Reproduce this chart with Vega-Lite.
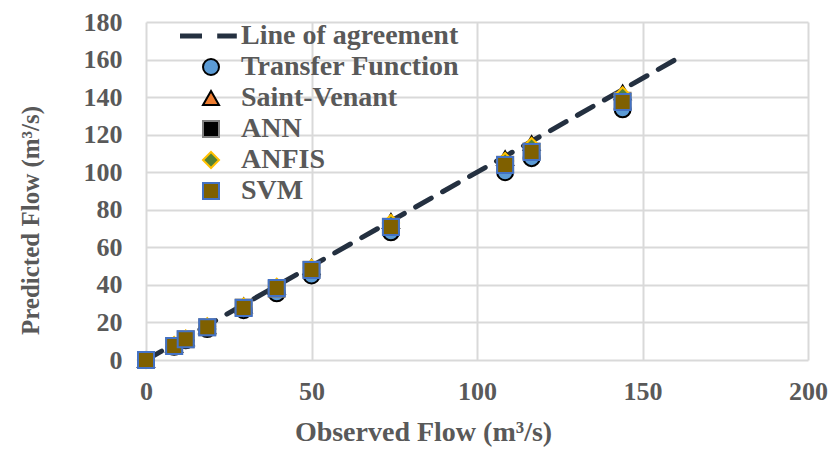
{
  "$schema": "https://vega.github.io/schema/vega-lite/v6.json",
  "width": 662,
  "height": 338,
  "autosize": "none",
  "padding": {"left": 146, "top": 22, "right": 25, "bottom": 89},
  "background": "white",
  "config": {
    "view": {"stroke": null},
    "font": "Liberation Serif, Times New Roman, DejaVu Serif, serif",
    "axis": {
      "domain": false,
      "ticks": false,
      "grid": true,
      "gridColor": "#d9d9d9",
      "gridWidth": 2,
      "labelFlush": false,
      "labelOverlap": false,
      "labelFont": "Liberation Serif, Times New Roman, DejaVu Serif, serif",
      "labelFontWeight": "bold",
      "labelFontSize": 26,
      "labelColor": "#595959",
      "titleFont": "Liberation Serif, Times New Roman, DejaVu Serif, serif",
      "titleFontWeight": "bold",
      "titleColor": "#595959"
    }
  },
  "datasets": {
    "agreement": [
      {"observed": 0, "predicted": 0},
      {"observed": 160, "predicted": 160}
    ],
    "models": [
      {"series": "Transfer Function", "observed": 0, "predicted": 0},
      {"series": "Transfer Function", "observed": 8.5, "predicted": 7},
      {"series": "Transfer Function", "observed": 12, "predicted": 10.5},
      {"series": "Transfer Function", "observed": 18.5, "predicted": 16.5},
      {"series": "Transfer Function", "observed": 29.5, "predicted": 26.5},
      {"series": "Transfer Function", "observed": 39.5, "predicted": 35.5},
      {"series": "Transfer Function", "observed": 50, "predicted": 45},
      {"series": "Transfer Function", "observed": 74, "predicted": 68},
      {"series": "Transfer Function", "observed": 108.5, "predicted": 100},
      {"series": "Transfer Function", "observed": 116.5, "predicted": 107.5},
      {"series": "Transfer Function", "observed": 144, "predicted": 133.5},
      {"series": "Saint-Venant", "observed": 0, "predicted": 0},
      {"series": "Saint-Venant", "observed": 8.5, "predicted": 8},
      {"series": "Saint-Venant", "observed": 12, "predicted": 11.5},
      {"series": "Saint-Venant", "observed": 18.5, "predicted": 18},
      {"series": "Saint-Venant", "observed": 29.5, "predicted": 29},
      {"series": "Saint-Venant", "observed": 39.5, "predicted": 39},
      {"series": "Saint-Venant", "observed": 50, "predicted": 49.5},
      {"series": "Saint-Venant", "observed": 74, "predicted": 74},
      {"series": "Saint-Venant", "observed": 108.5, "predicted": 107.5},
      {"series": "Saint-Venant", "observed": 116.5, "predicted": 115.5},
      {"series": "Saint-Venant", "observed": 144, "predicted": 142.5},
      {"series": "ANN", "observed": 0, "predicted": 0},
      {"series": "ANN", "observed": 8.5, "predicted": 7.5},
      {"series": "ANN", "observed": 12, "predicted": 11},
      {"series": "ANN", "observed": 18.5, "predicted": 17.5},
      {"series": "ANN", "observed": 29.5, "predicted": 28},
      {"series": "ANN", "observed": 39.5, "predicted": 38},
      {"series": "ANN", "observed": 50, "predicted": 48},
      {"series": "ANN", "observed": 74, "predicted": 71},
      {"series": "ANN", "observed": 108.5, "predicted": 104},
      {"series": "ANN", "observed": 116.5, "predicted": 111},
      {"series": "ANN", "observed": 144, "predicted": 138},
      {"series": "ANFIS", "observed": 0, "predicted": 0},
      {"series": "ANFIS", "observed": 8.5, "predicted": 8},
      {"series": "ANFIS", "observed": 12, "predicted": 11.5},
      {"series": "ANFIS", "observed": 18.5, "predicted": 18},
      {"series": "ANFIS", "observed": 29.5, "predicted": 28.5},
      {"series": "ANFIS", "observed": 39.5, "predicted": 39},
      {"series": "ANFIS", "observed": 50, "predicted": 49},
      {"series": "ANFIS", "observed": 74, "predicted": 73},
      {"series": "ANFIS", "observed": 108.5, "predicted": 106},
      {"series": "ANFIS", "observed": 116.5, "predicted": 114},
      {"series": "ANFIS", "observed": 144, "predicted": 141},
      {"series": "SVM", "observed": 0, "predicted": 0},
      {"series": "SVM", "observed": 8.5, "predicted": 7.5},
      {"series": "SVM", "observed": 12, "predicted": 11},
      {"series": "SVM", "observed": 18.5, "predicted": 17.5},
      {"series": "SVM", "observed": 29.5, "predicted": 27.7},
      {"series": "SVM", "observed": 39.5, "predicted": 38.3},
      {"series": "SVM", "observed": 50, "predicted": 47.9},
      {"series": "SVM", "observed": 74, "predicted": 70.8},
      {"series": "SVM", "observed": 108.5, "predicted": 103.8},
      {"series": "SVM", "observed": 116.5, "predicted": 110.8},
      {"series": "SVM", "observed": 144, "predicted": 137.4}
    ]
  },
  "layer": [
    {
      "data": {"name": "agreement"},
      "mark": {"type": "line", "strokeDash": [18, 13], "strokeWidth": 5, "strokeCap": "round", "color": "#243040"},
      "encoding": {
        "x": {
          "field": "observed", "type": "quantitative",
          "scale": {"domain": [0, 200], "nice": false},
          "axis": {"values": [0, 50, 100, 150, 200], "title": "Observed Flow (m³/s)", "titleFontSize": 28, "labelPadding": 18, "titlePadding": 14, "titleX": 277, "titleAnchor": "start", "titleAlign": "center"}
        },
        "y": {
          "field": "predicted", "type": "quantitative",
          "scale": {"domain": [0, 180], "nice": false},
          "axis": {"values": [0, 20, 40, 60, 80, 100, 120, 140, 160, 180], "title": "Predicted Flow (m³/s)", "titleFontSize": 25, "labelPadding": 24, "titlePadding": 40, "titleY": 198, "titleAlign": "center"}
        }
      }
    },
    {
      "data": {"name": "models"},
      "mark": {"type": "point", "filled": true, "size": 256, "strokeWidth": 2, "opacity": 1},
      "encoding": {
        "x": {
          "field": "observed", "type": "quantitative",
          "axis": {"values": [0, 50, 100, 150, 200], "title": "Observed Flow (m³/s)", "titleFontSize": 28, "labelPadding": 18, "titlePadding": 14, "titleX": 277, "titleAnchor": "start", "titleAlign": "center"}
        },
        "y": {
          "field": "predicted", "type": "quantitative",
          "axis": {"values": [0, 20, 40, 60, 80, 100, 120, 140, 160, 180], "title": "Predicted Flow (m³/s)", "titleFontSize": 25, "labelPadding": 24, "titlePadding": 40, "titleY": 198, "titleAlign": "center"}
        },
        "shape": {
          "field": "series", "type": "nominal",
          "scale": {
            "domain": ["Line of agreement", "Transfer Function", "Saint-Venant", "ANN", "ANFIS", "SVM"],
            "range": ["M-3.75,-0.2H-1.25V0.2H-3.75Z M0.9,-0.2H3.1V0.2H0.9Z", "circle", "triangle-up", "square", "diamond", "square"]
          },
          "legend": {
            "orient": "none", "legendX": 51, "legendY": 0, "title": null,
            "symbolSize": 256, "symbolStrokeWidth": 2,
            "labelFont": "Liberation Serif, Times New Roman, DejaVu Serif, serif", "labelFontWeight": "bold", "labelFontSize": 28, "labelColor": "#595959",
            "labelOffset": 16, "rowPadding": 3, "labelLimit": 400
          }
        },
        "fill": {
          "field": "series", "type": "nominal",
          "scale": {
            "domain": ["Line of agreement", "Transfer Function", "Saint-Venant", "ANN", "ANFIS", "SVM"],
            "range": ["#243040", "#5b9bd5", "#ed7d31", "#000000", "#548235", "#7f6000"]
          }
        },
        "stroke": {
          "field": "series", "type": "nominal",
          "scale": {
            "domain": ["Line of agreement", "Transfer Function", "Saint-Venant", "ANN", "ANFIS", "SVM"],
            "range": ["#243040", "#000000", "#000000", "#808080", "#ffc000", "#4472c4"]
          }
        }
      }
    }
  ]
}
